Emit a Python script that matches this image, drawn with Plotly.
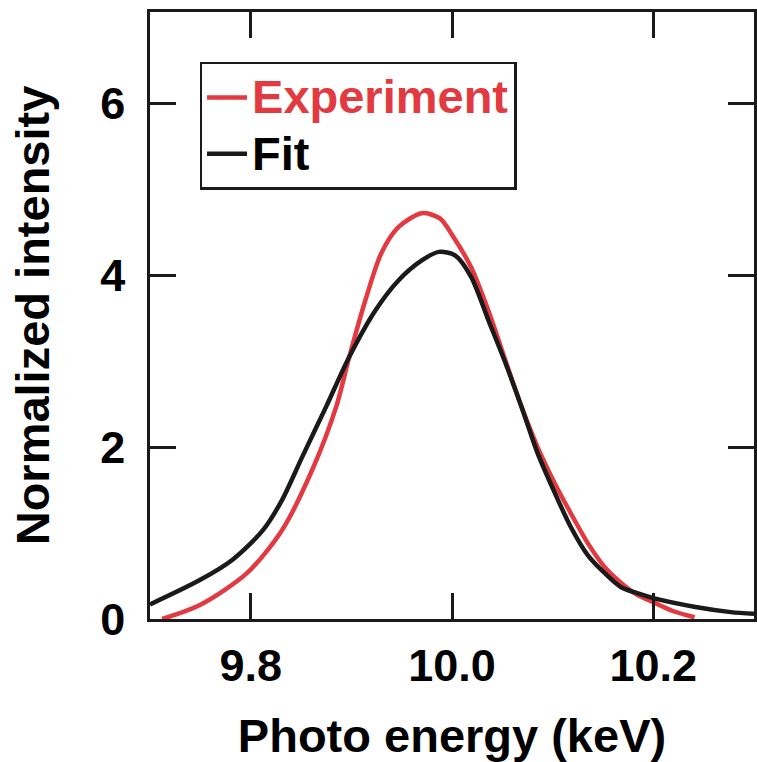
import plotly.graph_objects as go

exp_x = [9.712, 9.749, 9.796, 9.831, 9.861, 9.885, 9.898, 9.914, 9.930, 9.947, 9.970,
         9.988, 10.000, 10.019, 10.036, 10.053, 10.069, 10.085, 10.102, 10.118, 10.135,
         10.152, 10.168, 10.184, 10.201, 10.220, 10.241]
exp_y = [0.0, 0.16, 0.53, 1.03, 1.73, 2.47, 3.05, 3.71, 4.26, 4.56, 4.72,
         4.66, 4.47, 4.09, 3.59, 3.01, 2.47, 2.00, 1.58, 1.23, 0.88,
         0.60, 0.42, 0.28, 0.19, 0.09, 0.02]

fit_x = [9.70, 9.749, 9.782, 9.812, 9.831, 9.851, 9.875, 9.898, 9.924, 9.947, 9.970,
         9.987, 10.003, 10.019, 10.036, 10.053, 10.069, 10.085, 10.102, 10.118, 10.135,
         10.152, 10.168, 10.184, 10.201, 10.242, 10.277, 10.30]
fit_y = [0.17, 0.45, 0.69, 1.03, 1.38, 1.88, 2.47, 3.05, 3.59, 3.94, 4.17,
         4.27, 4.23, 3.98, 3.48, 2.98, 2.47, 1.93, 1.47, 1.07, 0.74,
         0.53, 0.37, 0.30, 0.24, 0.14, 0.08, 0.06]

x_ticks = [9.8, 10.0, 10.2]
x_labels = ["9.8", "10.0", "10.2"]
y_ticks = [0, 2, 4, 6]

RED = "#e23a40"
BLACK = "#1a1a1a"
FONT = dict(family="Liberation Sans, Arial, sans-serif", weight="bold", color="black")

fig = go.Figure()
fig.add_trace(go.Scatter(x=exp_x, y=exp_y, mode="lines",
                         line=dict(color=RED, width=4.5, shape="spline", smoothing=0.8),
                         name="<span style='color:%s;font-size:47px'>Experiment</span>" % RED))
fig.add_trace(go.Scatter(x=fit_x, y=fit_y, mode="lines",
                         line=dict(color=BLACK, width=4.5, shape="spline", smoothing=0.8),
                         name="<span style='font-size:47px'>Fit</span>"))

axis_common = dict(showline=True, linecolor=BLACK, linewidth=2.5, mirror="ticks",
                   ticks="inside", ticklen=26, tickwidth=2.5, tickcolor=BLACK,
                   showgrid=False, zeroline=False,
                   tickfont=dict(size=45, **FONT))

fig.update_layout(
    width=757, height=762,
    margin=dict(l=150, r=0, t=12, b=143),
    paper_bgcolor="white", plot_bgcolor="white",
    font=FONT,
    showlegend=True,
    legend=dict(x=0.082, y=0.918, xanchor="left", yanchor="top",
                bordercolor=BLACK, borderwidth=2.5, bgcolor="white",
                font=dict(size=41, **FONT), itemwidth=40, tracegroupgap=0),
    xaxis=dict(range=[9.7, 10.3], tickvals=x_ticks, ticktext=x_labels,
               ticklabelstandoff=5,
               title=dict(text="Photo energy (keV)", font=dict(size=47, **FONT), standoff=30),
               **axis_common),
    yaxis=dict(range=[0, 7.06], tickvals=y_ticks, ticklabelstandoff=13,
               title=dict(text="Normalized intensity", font=dict(size=47, **FONT), standoff=36),
               **axis_common),
)

fig.write_html("out.html")
